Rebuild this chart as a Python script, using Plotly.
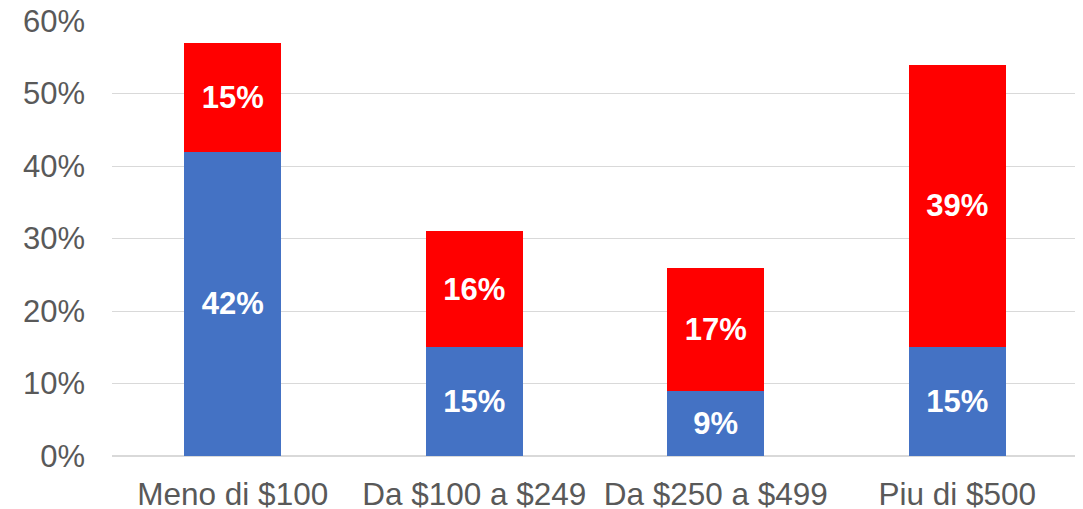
import plotly.graph_objects as go

categories = ['Meno di $100', 'Da $100 a $249', 'Da $250 a $499', 'Piu di $500']
blue_values = [42, 15, 9, 15]
red_values = [15, 16, 17, 39]
y_ticks = [0, 10, 20, 30, 40, 50, 60]

fig = go.Figure()

for vals, color in [(blue_values, '#4472C4'), (red_values, '#FF0000')]:
    fig.add_trace(go.Bar(
        x=categories,
        y=vals,
        marker=dict(color=color, line=dict(width=0)),
        text=[f'{v}%' for v in vals],
        textposition='inside',
        insidetextanchor='middle',
        textangle=0,
        textfont=dict(family='Liberation Sans, Arial', size=31, color='white', weight='bold'),
        width=0.4,
        showlegend=False
    ))

# page body has an 8px margin, so the plot box is shifted up/left to compensate
fig.update_layout(
    barmode='stack',
    width=1083,
    height=509,
    margin=dict(l=104, r=13, t=13, b=61),
    plot_bgcolor='white',
    paper_bgcolor='white',
    font=dict(family='Liberation Sans, Arial', size=31, color='#595959'),
    uniformtext=dict(minsize=31, mode='show'),
    xaxis=dict(showgrid=False, showline=False, ticks='', tickfont=dict(size=31.5),
               ticklabelstandoff=16, automargin=False),
    yaxis=dict(
        range=[0, 60.02],
        tickvals=y_ticks,
        ticktext=[f'{t}%' for t in y_ticks],
        showgrid=True,
        gridcolor='#D9D9D9',
        gridwidth=1,
        zeroline=True,
        zerolinecolor='#D9D9D9',
        ticks='',
        ticklabelstandoff=26,
        ticklabeloverflow='allow',
        automargin=False,
        tickfont=dict(size=31)
    )
)

fig.write_html("out.html")
